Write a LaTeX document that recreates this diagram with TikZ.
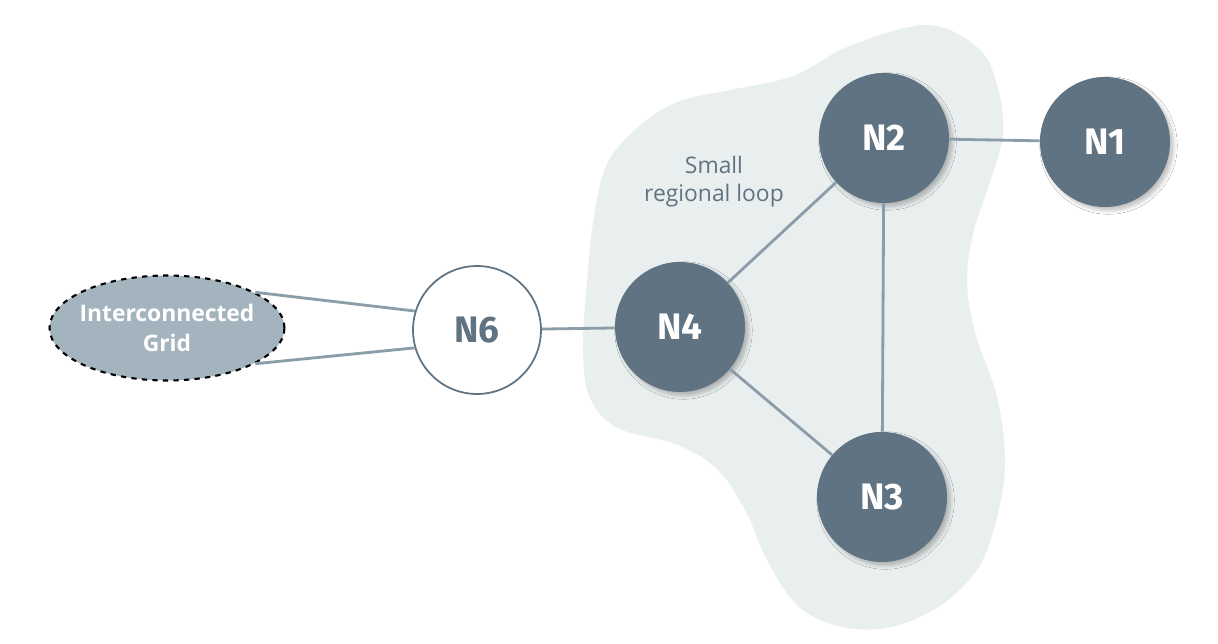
\documentclass[tikz,border=0pt]{standalone}
\usepackage{fontspec}
\setmainfont{Open Sans}
\newfontfamily\hubfont{Fira Sans}
\usetikzlibrary{shapes.geometric,shadows.blur}
\tikzset{
  hub/.style={circle, minimum size=2.6cm, inner sep=0pt, fill=HubGray,
    text=white, font=\hubfont\bfseries\fontsize{21}{25}\selectfont,
    blur shadow={shadow blur steps=6, shadow xshift=2pt, shadow yshift=-2pt, shadow opacity=25}},
  link/.style={draw=LinkGray, line width=1.6pt}
}
\begin{document}
\begin{tikzpicture}[x=0.02cm, y=-0.02cm]
\definecolor{HubGray}{RGB}{96, 115, 130}
\definecolor{LinkGray}{RGB}{138, 157, 169}
\definecolor{GridGray}{RGB}{164, 180, 190}
\definecolor{LoopGray}{RGB}{233, 238, 239}
\useasboundingbox[fill=white] (0,0) rectangle (1218,643);
% regional loop area
\fill[LoopGray] plot[smooth cycle, tension=0.6] coordinates {
(927,25) (978,48) (997,85) (1003,133) (990,182) (974,230) (967,280)
(975,332) (997,397) (1005,460) (998,513) (980,565) (948,600) (913,620)
(878,629) (838,626) (798,606) (768,562) (746,512) (718,470) (678,445)
(618,428) (590,398) (583,350) (587,283) (594,217) (608,162) (643,123)
(680,101) (730,90) (793,76) (850,46)};
\node[text=HubGray, font=\fontsize{13}{16}\selectfont, align=center] (loop) at (714,182) {Small\\regional loop};
% nodes
\foreach \name/\x/\y in {N1/1105/142, N2/884/138, N3/882/497, N4/680/327}{
\node[hub] (\name) at (\x,\y) {\name};
}
\node[circle, minimum size=2.56cm, inner sep=0pt, fill=white, draw=HubGray, line width=1pt,
  text=HubGray, font=\hubfont\bfseries\fontsize{21}{25}\selectfont] (N6) at (477,330) {N6};
\node[ellipse, minimum width=4.7cm, minimum height=2.1cm, inner xsep=-0.12cm, inner ysep=0pt,
  fill=GridGray, draw=black, dashed, line width=1.2pt, text=white,
  font=\bfseries\fontsize{13}{17}\selectfont, align=center] (grid) at (167,328) {Interconnected\\Grid};
% lines
\foreach \a/\b in {N2/N1, N2/N4, N2/N3, N4/N3, N6/N4}{
\draw[link] (\a) -- (\b);
}
\draw[link] (grid.22) -- (N6.163);
\draw[link] (grid.-22) -- (N6.196);
\end{tikzpicture}
\end{document}
